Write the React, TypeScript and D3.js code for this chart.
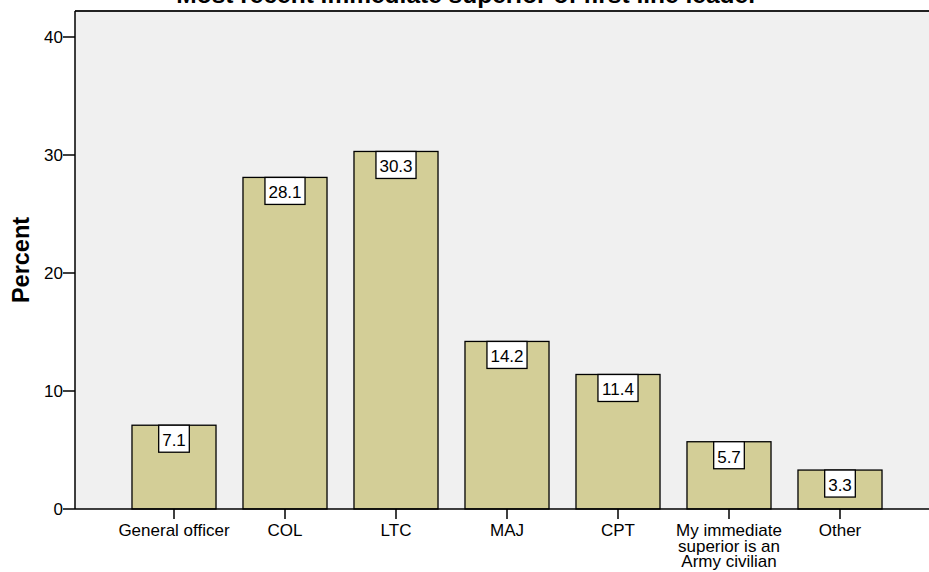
import React from "react";
import * as d3 from "d3";

const categories = [
  "General officer",
  "COL",
  "LTC",
  "MAJ",
  "CPT",
  "My immediate superior is an Army civilian",
  "Other",
];
const categoryLines = [
  ["General officer"],
  ["COL"],
  ["LTC"],
  ["MAJ"],
  ["CPT"],
  ["My immediate", "superior is an", "Army civilian"],
  ["Other"],
];
const percents = [7.1, 28.1, 30.3, 14.2, 11.4, 5.7, 3.3];
const yTicks = [0, 10, 20, 30, 40];
const title = "Most recent immediate superior of first line leader";
const yTitle = "Percent";

const W = 929;
const H = 572;
const font = "Arial, 'Liberation Sans', sans-serif";

export default function App() {
  const left = 75;
  const top = 11;
  const bottom = 509;
  const x = d3
    .scaleBand<string>()
    .domain(categories)
    .range([118.5, 895.5])
    .paddingInner(0.243)
    .paddingOuter(0.1215);
  const y = d3.scaleLinear().domain([0, 40]).range([bottom, 37]);

  const fs = 17;
  const labelW = (s: string) => {
    let w = 0;
    for (const c of s) w += c === "." ? fs * 0.278 : fs * 0.556;
    return w + 7;
  };

  return (
    <svg
      width={W}
      height={H}
      style={{ position: "absolute", left: 0, top: 0, background: "#fff" }}
      fontFamily={font}
    >
      <text
        x={467}
        y={3}
        textAnchor="middle"
        fontSize={24.5}
        fontWeight="bold"
        fill="#000"
      >
        {title}
      </text>
      <rect x={left} y={top} width={W - left + 5} height={bottom - top} fill="#f0f0f0" />
      <line x1={left} x2={W} y1={top} y2={top} stroke="#222" strokeWidth={2} />
      <line x1={left} x2={left} y1={top} y2={bottom} stroke="#000" strokeWidth={1.5} />
      {categories.map((c, i) => {
        const bx = x(c)!;
        const bw = x.bandwidth();
        const by = y(percents[i]);
        const lbl = percents[i].toFixed(1);
        const lw = labelW(lbl);
        const cx = bx + bw / 2;
        return (
          <g key={c}>
            <rect
              x={bx}
              y={by}
              width={bw}
              height={bottom - by}
              fill="#d3ce97"
              stroke="#000"
              strokeWidth={1.3}
            />
            <rect
              x={cx - lw / 2}
              y={by}
              width={lw}
              height={27}
              fill="#fff"
              stroke="#000"
              strokeWidth={1.3}
            />
            <text x={cx} y={by + 21} textAnchor="middle" fontSize={fs} fill="#000">
              {lbl}
            </text>
            <line x1={cx} x2={cx} y1={bottom} y2={519} stroke="#000" strokeWidth={1.5} />
            {categoryLines[i].map((ln, j) => (
              <text
                key={j}
                x={cx}
                y={536 + j * 15.5}
                textAnchor="middle"
                fontSize={fs}
                fill="#000"
              >
                {ln}
              </text>
            ))}
          </g>
        );
      })}
      <line x1={left} x2={W} y1={bottom} y2={bottom} stroke="#000" strokeWidth={1.5} />
      {yTicks.map((t) => (
        <g key={t}>
          <line x1={63} x2={left} y1={y(t)} y2={y(t)} stroke="#000" strokeWidth={1.5} />
          <text x={63} y={y(t) + 6} textAnchor="end" fontSize={fs} fill="#000">
            {t}
          </text>
        </g>
      ))}
      <text
        transform={`translate(29,260) rotate(-90)`}
        textAnchor="middle"
        fontSize={23.5}
        fontWeight="bold"
        fill="#000"
      >
        {yTitle}
      </text>
    </svg>
  );
}
